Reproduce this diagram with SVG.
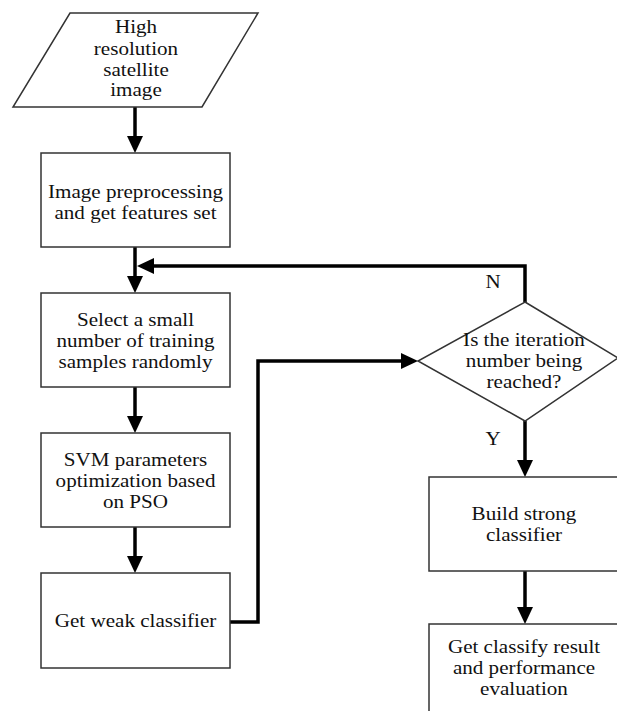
<svg xmlns="http://www.w3.org/2000/svg" width="617" height="711" viewBox="0 0 617 711">
<defs>
<marker id="ah" viewBox="0 0 17 16" markerWidth="17" markerHeight="16" refX="1" refY="8" orient="auto" markerUnits="userSpaceOnUse">
<path d="M0,0 L17,8 L0,16 z" fill="#000"/>
</marker>
</defs>
<style>
.shape{fill:#fff;stroke:#333;stroke-width:1.5}
.t{font-family:"Liberation Serif","Times New Roman",serif;font-size:18.5px;fill:#111;text-anchor:middle}
.c{fill:none;stroke:#000;stroke-width:3.5;marker-end:url(#ah)}
</style>
<rect width="617" height="711" fill="#fff"/>
<g id="connectors">
<path class="c" d="M135,107 V137"/>
<path class="c" d="M135,247 V277"/>
<path class="c" d="M135,387 V417"/>
<path class="c" d="M135,527 V557"/>
<path class="c" d="M525,302 V266 H153"/>
<path class="c" d="M230,622 H258 V361 H402"/>
<path class="c" d="M525,421 V461"/>
<path class="c" d="M525,571 V608"/>
</g>
<g id="input">
<polygon class="shape" points="70,13 258,13 202,107 13,107"/>
<g transform="translate(136,0) scale(1.14,1)">
<text class="t" x="0" y="33">High</text>
<text class="t" x="0" y="55">resolution</text>
<text class="t" x="0" y="76">satellite</text>
<text class="t" x="0" y="96">image</text>
</g>
</g>
<g id="preprocess">
<rect class="shape" x="41" y="153" width="189" height="94"/>
<g transform="translate(135.5,0) scale(1.14,1)">
<text class="t" x="0" y="198">Image preprocessing</text>
<text class="t" x="0" y="219">and get features set</text>
</g>
</g>
<g id="select">
<rect class="shape" x="41" y="293" width="189" height="94"/>
<g transform="translate(135.5,0) scale(1.14,1)">
<text class="t" x="0" y="326">Select a small</text>
<text class="t" x="0" y="347">number of training</text>
<text class="t" x="0" y="368">samples randomly</text>
</g>
</g>
<g id="svm">
<rect class="shape" x="41" y="433" width="189" height="94"/>
<g transform="translate(135.5,0) scale(1.14,1)">
<text class="t" x="0" y="466">SVM parameters</text>
<text class="t" x="0" y="487">optimization based</text>
<text class="t" x="0" y="508">on PSO</text>
</g>
</g>
<g id="weak">
<rect class="shape" x="41" y="573" width="189" height="95"/>
<g transform="translate(135.5,0) scale(1.14,1)">
<text class="t" x="0" y="627">Get weak classifier</text>
</g>
</g>
<g id="decision">
<polygon class="shape" points="525,302 618,358 525,421 418,361"/>
<g transform="translate(524,0) scale(1.14,1)">
<text class="t" x="0" y="346">Is the iteration</text>
<text class="t" x="0" y="367">number being</text>
<text class="t" x="0" y="388">reached?</text>
</g>
<g transform="translate(493,0) scale(1.14,1)">
<text class="t" x="0" y="288">N</text>
<text class="t" x="0" y="445">Y</text>
</g>
</g>
<g id="strong">
<rect class="shape" x="429" y="477" width="190" height="94"/>
<g transform="translate(524,0) scale(1.14,1)">
<text class="t" x="0" y="520">Build strong</text>
<text class="t" x="0" y="541">classifier</text>
</g>
</g>
<g id="result">
<rect class="shape" x="429" y="624" width="190" height="100"/>
<g transform="translate(524,0) scale(1.14,1)">
<text class="t" x="0" y="653">Get classify result</text>
<text class="t" x="0" y="674">and performance</text>
<text class="t" x="0" y="695">evaluation</text>
</g>
</g>
</svg>
